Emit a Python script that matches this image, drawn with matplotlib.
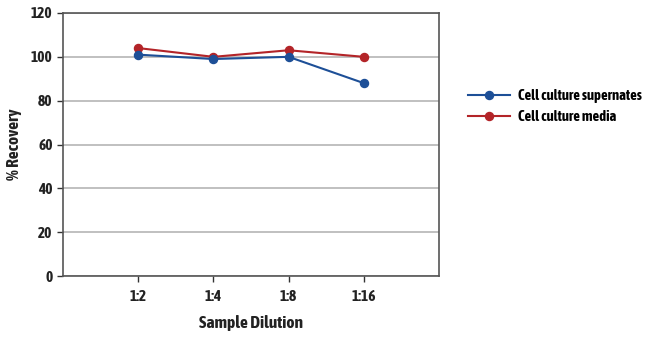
import numpy as np
import matplotlib.pyplot as plt

dilutions = ['1:2', '1:4', '1:8', '1:16']
supernates = [101, 99, 100, 88]
media = [104, 100, 103, 100]

plt.rcParams['font.family'] = ['Asap Condensed', 'DejaVu Sans']
plt.rcParams['font.weight'] = 'bold'

fig = plt.figure(figsize=(6.5, 3.41), dpi=100)
ax = fig.add_axes([63/650, 1-276/341, 376/650, 263/341])

x = np.arange(1, len(dilutions)+1)
ax.plot(x, supernates, color='#1d4f97', lw=1.5, marker='o', ms=5.8, label='Cell culture supernates', zorder=3)
ax.plot(x, media, color='#b32428', lw=1.5, marker='o', ms=5.8, label='Cell culture media', zorder=2)

ax.set_xlim(0, 5)
ax.set_ylim(0, 120)
ax.set_yticks(range(0, 121, 20))
ax.set_xticks(x)
ax.set_xticklabels(dilutions)
ax.yaxis.grid(True, color='#b5b5b5', lw=1.2)
ax.set_axisbelow(True)
for s in ax.spines.values():
    s.set_color('#555555')
    s.set_linewidth(1.2)
ax.tick_params(axis='both', labelsize=11, colors='#333333', length=4, width=1, direction='out')
ax.tick_params(axis='x', pad=6)
for lab in ax.get_xticklabels() + ax.get_yticklabels():
    lab.set_fontweight('bold')
    lab.set_color('#222222')

ax.set_xlabel('Sample Dilution', fontsize=12.5, fontweight='bold', color='#222222', labelpad=8)
ax.set_ylabel('% Recovery', fontsize=12.5, fontweight='bold', color='#222222', labelpad=6)

fig.legend(loc='upper left', bbox_to_anchor=(455/650, 1-76/341), frameon=False,
           prop={'size': 10.5, 'weight': 'bold'}, handlelength=2.9, handletextpad=0.5,
           labelspacing=0.45)

fig.savefig('out.png', dpi=100)
